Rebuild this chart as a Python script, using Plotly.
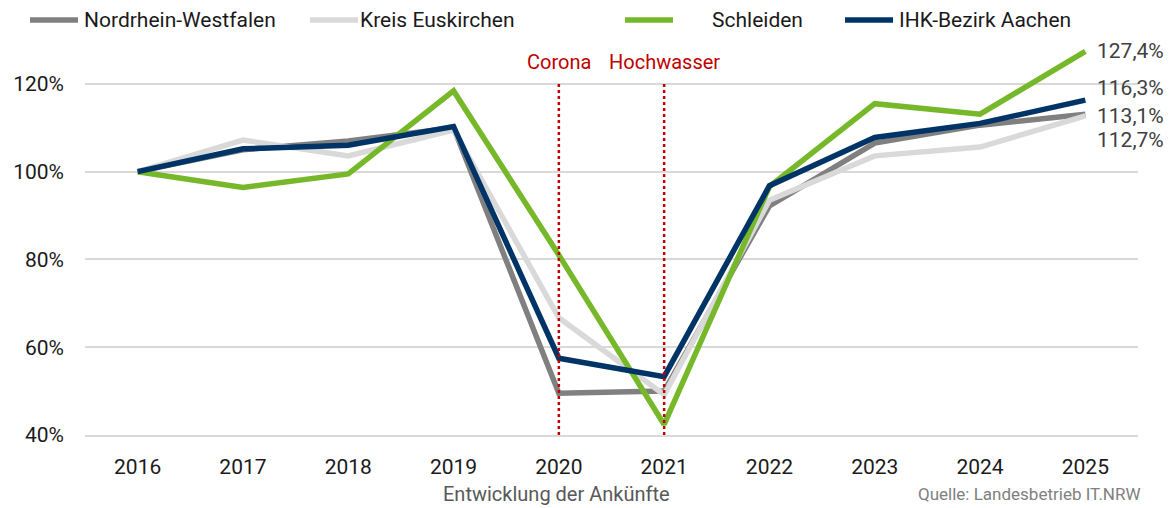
import plotly.graph_objects as go

# Ankünfte, Index 2016 = 100 %
years = [2016, 2017, 2018, 2019, 2020, 2021, 2022, 2023, 2024, 2025]
nrw = [100, 105.0, 107.0, 110.0, 49.5, 50.0, 92.2, 106.5, 110.6, 113.1]
euskirchen = [100, 107.2, 103.6, 109.5, 66.7, 49.2, 93.5, 103.6, 105.6, 112.7]
schleiden = [100, 96.4, 99.5, 118.4, 81.0, 42.4, 96.6, 115.5, 113.1, 127.4]
ihk_aachen = [100, 105.2, 106.0, 110.3, 57.5, 53.3, 96.8, 107.8, 111.0, 116.3]

series = [nrw, euskirchen, schleiden, ihk_aachen]
series_names = ["Nordrhein-Westfalen", "Kreis Euskirchen", "Schleiden", "IHK-Bezirk Aachen"]
series_colors = ["#808080", "#d9d9d9", "#77b82a", "#003466"]
end_labels = ["113,1%", "112,7%", "127,4%", "116,3%"]
end_label_shift = [-2, -24, 0, 12]

events = ["Corona", "Hochwasser"]
event_years = [2020, 2021]

y_ticks = [40, 60, 80, 100, 120]
y_tick_labels = ["40%", "60%", "80%", "100%", "120%"]

FONT = "Roboto"
W, H = 1175, 508
ML, MR, MT, MB = 85, 37, 40, 73
PW, PH = W - ML - MR, H - MT - MB


def px_x(x):
    return (x - ML) / PW


def px_y(y):
    return (H - MB - y) / PH


fig = go.Figure()

for vals, name, color in zip(series, series_names, series_colors):
    fig.add_trace(go.Scatter(
        x=years, y=vals, mode="lines", name=name,
        line=dict(color=color, width=5.5), showlegend=False
    ))

# event markers
for ev, yr in zip(events, event_years):
    fig.add_shape(type="line", xref="x", yref="y", x0=yr, x1=yr, y0=40, y1=120,
                  line=dict(color="#c00000", width=2.5, dash="dot"))
    fig.add_annotation(x=yr, y=120, xref="x", yref="y", yshift=22, text=ev,
                       showarrow=False, font=dict(family=FONT, size=20, color="#c00000"))

# end labels
for vals, lab, shift in zip(series, end_labels, end_label_shift):
    fig.add_annotation(x=years[-1], y=vals[-1], xref="x", yref="y", text=lab,
                       xanchor="left", xshift=10, yshift=shift, showarrow=False,
                       font=dict(family=FONT, size=21, color="#404040"))

# legend drawn by hand (longer line samples than plotly's own)
legend_line_x = [30, 310, 625, 845]
legend_text_x = [82, 358, 710, 897]
for name, color, lx, tx in zip(series_names, series_colors, legend_line_x, legend_text_x):
    fig.add_shape(type="line", xref="paper", yref="paper",
                  x0=px_x(lx), x1=px_x(lx + 48), y0=px_y(20), y1=px_y(20),
                  line=dict(color=color, width=5.5))
    fig.add_annotation(xref="paper", yref="paper", x=px_x(tx), y=px_y(20),
                       xanchor="left", yanchor="middle", text=name, showarrow=False,
                       font=dict(family=FONT, size=21, color="#1a1a1a"))

fig.add_annotation(xref="paper", yref="paper", x=px_x(556), y=px_y(494), yanchor="middle",
                   text="Entwicklung der Ankünfte", showarrow=False,
                   font=dict(family=FONT, size=20, color="#595959"))
fig.add_annotation(xref="paper", yref="paper", x=px_x(1143), y=px_y(494),
                   xanchor="right", yanchor="middle",
                   text="Quelle: Landesbetrieb IT.NRW", showarrow=False,
                   font=dict(family=FONT, size=17, color="#808080"))

fig.update_layout(
    width=W, height=H, autosize=False,
    margin=dict(l=ML, r=MR, t=MT, b=MB),
    plot_bgcolor="white", paper_bgcolor="white",
    font=dict(family=FONT, size=21, color="#1a1a1a"),
    showlegend=False,
)
fig.update_xaxes(range=[2015.5, 2025.5], tickvals=years, ticktext=[str(y) for y in years],
                 showgrid=False, zeroline=False,
                 showline=True, linecolor="#d9d9d9", linewidth=2,
                 ticks="", ticklabelstandoff=12, tickfont=dict(size=21))
fig.update_yaxes(range=[40, 130], tickvals=y_ticks, ticktext=y_tick_labels,
                 showgrid=True, gridcolor="#d9d9d9", gridwidth=2,
                 zeroline=False, ticks="", ticklabelstandoff=20, tickfont=dict(size=21))

fig.write_html("out.html", config={"displayModeBar": False},
               post_script="document.body.style.margin='0';")
